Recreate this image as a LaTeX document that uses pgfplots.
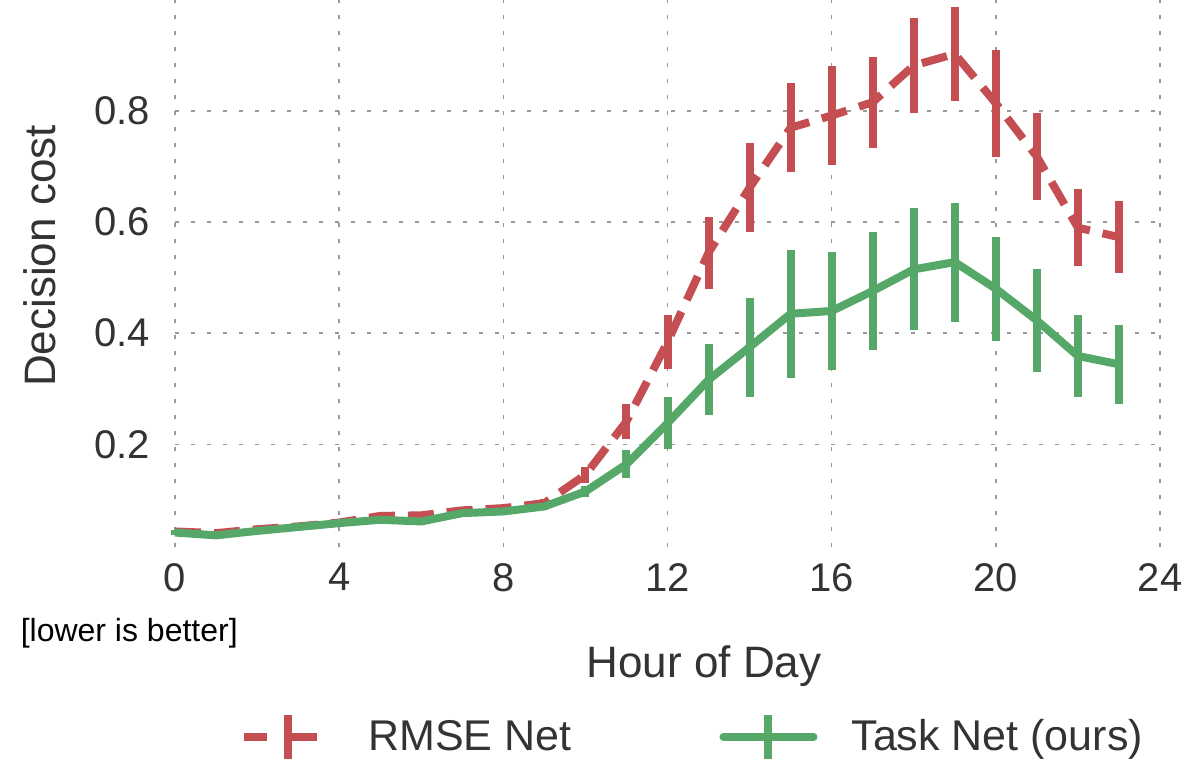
\documentclass[border=0pt]{standalone}
\usepackage{pgfplots}
\usepackage{pgfplotstable}
\pgfplotsset{compat=1.18}
\usepackage{fontspec}
\setmainfont{Liberation Sans}
\definecolor{sred}{HTML}{C44E52}
\definecolor{sgreen}{HTML}{55A868}
\definecolor{txt}{HTML}{333333}
\definecolor{gridc}{HTML}{999999}

\pgfplotstableread{
h y e
0 0.043 0.003
1 0.040 0.003
2 0.047 0.004
3 0.052 0.004
4 0.059 0.004
5 0.071 0.005
6 0.072 0.005
7 0.081 0.006
8 0.085 0.006
9 0.094 0.007
10 0.145 0.014
11 0.241 0.032
12 0.384 0.048
13 0.545 0.065
14 0.662 0.080
15 0.770 0.080
16 0.792 0.089
17 0.816 0.082
18 0.882 0.086
19 0.903 0.084
20 0.814 0.096
21 0.718 0.078
22 0.590 0.069
23 0.573 0.065
}\rmsedata

\pgfplotstableread{
h y e
0 0.041 0.004
1 0.036 0.004
2 0.044 0.004
3 0.051 0.004
4 0.058 0.005
5 0.064 0.005
6 0.061 0.005
7 0.076 0.006
8 0.079 0.006
9 0.088 0.007
10 0.115 0.010
11 0.164 0.025
12 0.238 0.047
13 0.316 0.064
14 0.375 0.089
15 0.435 0.115
16 0.440 0.107
17 0.476 0.107
18 0.515 0.110
19 0.528 0.107
20 0.480 0.094
21 0.423 0.093
22 0.359 0.073
23 0.344 0.071
}\taskdata

\begin{document}
\begin{tikzpicture}
\begin{axis}[
  scale only axis, width=492.5pt, height=273.5pt,
  xmin=0, xmax=24, ymin=0.015, ymax=1.0,
  clip=false,
  xtick={0,4,...,24}, ytick={0.2,0.4,0.6,0.8},
  /pgf/number format/assume math mode=true,
  yticklabel style={/pgf/number format/fixed, /pgf/number format/precision=1, /pgf/number format/fixed zerofill, xshift=-9pt},
  xticklabel style={yshift=-4.5pt},
  tick label style={font=\fontsize{20}{24}\selectfont, text=txt},
  axis line style={draw=none},
  major tick length=0pt,
  grid=major,
  major grid style={line width=0.75pt, color=gridc, dash pattern=on 2pt off 6pt},
  every axis y label/.style={at={(axis description cs:-0.137,0.532)}, rotate=90, anchor=center},
  every axis x label/.style={at={(axis description cs:0.537,-0.238)}, anchor=base},
  label style={font=\fontsize{22}{26}\selectfont, text=txt},
  xlabel={Hour of Day},
  ylabel={Decision cost},
  legend columns=2,
  legend style={at={(axis description cs:0.066,-0.347)}, anchor=west, draw=none, fill=none,
    inner xsep=0pt, font=\fontsize{21.5}{26}\selectfont, text=txt,
    /tikz/every odd column/.append style={column sep=15pt},
    /tikz/every even column/.append style={column sep=72pt}},
]
\addplot[sred, line width=4pt, dash pattern=on 13pt off 6.5pt,
  legend image code/.code={
    \draw[sred, solid, line width=4pt] (0pt,0pt) -- (11.5pt,0pt);
    \draw[sred, solid, line width=4pt] (22pt,0pt) -- (36.5pt,0pt);
    \draw[sred, solid, line width=4pt] (22pt,-11pt) -- (22pt,11pt);
    \path[draw=none, fill=none] (0pt,0pt) -- (45pt,0pt);
  },
  error bars/.cd, y dir=both, y explicit, error mark=none,
  error bar style={solid, line width=4pt, sred}]
  table[x=h, y=y, y error=e] {\rmsedata};
\addlegendentry{RMSE Net}
\addplot[sgreen, line width=4pt, line join=round,
  legend image code/.code={
    \draw[sgreen, solid, line width=4pt, line cap=round] (0pt,0pt) -- (45pt,0pt);
    \draw[sgreen, solid, line width=4pt] (22.5pt,-11pt) -- (22.5pt,11pt);
  },
  error bars/.cd, y dir=both, y explicit, error mark=none,
  error bar style={solid, line width=4pt, sgreen}]
  table[x=h, y=y, y error=e] {\taskdata};
\addlegendentry{Task Net (ours)}
\node[anchor=west, inner sep=0pt, font=\fontsize{16}{19}\selectfont, text=black] at (axis description cs:-0.157,-0.157) {[lower is better]};
\end{axis}
\pgfresetboundingbox
\path[use as bounding box] ([shift={(-87.5pt,-107pt)}]current axis.south west) rectangle ([shift={(14.5pt,0pt)}]current axis.north east);
\end{tikzpicture}
\end{document}
